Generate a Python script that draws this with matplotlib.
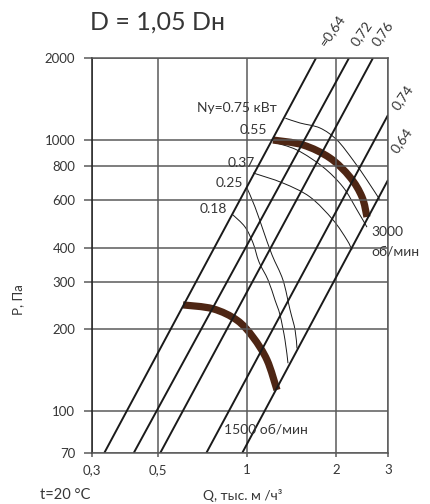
import matplotlib
matplotlib.use('Agg')
import numpy as np
import matplotlib.pyplot as plt
from matplotlib.path import Path
from matplotlib.patches import PathPatch

plt.rcParams['font.family'] = ['Lato', 'Open Sans', 'DejaVu Sans']

# axis ticks
x_ticks = [0.3, 0.5, 1, 2, 3]
x_labels = ['0,3', '0,5', '1', '2', '3']
y_ticks = [70, 100, 200, 300, 400, 600, 800, 1000, 2000]

# system lines (Q, P) at both ends
line_q1 = [0.33, 0.415, 0.51, 0.73, 0.965]
line_p1 = [70, 70, 70, 70, 70]
line_q2 = [1.714, 2.215, 2.669, 3.0, 3.0]
line_p2 = [2000, 2000, 2000, 1233, 710]
line_labels = ['=0,64', '0,72', '0,76', '0,74', '0,64']

# fan curves (thick brown)
q_3000 = [1.226, 1.549, 1.910, 2.232, 2.451, 2.547]
p_3000 = [997, 956, 856, 728, 615, 519]
q_1500 = [0.609, 0.769, 0.927, 1.050, 1.171, 1.265]
p_1500 = [246, 238, 216, 187, 154, 119.5]

# thin power curves
ny_labels = ['Ny=0.75 кВт', '0.55', '0.37', '0.25', '0.18']
ny_q = [
    [1.35, 1.513, 1.768, 2.017, 2.285, 2.547, 2.819],
    [1.226, 1.478, 1.809, 2.114, 2.357, 2.547],
    [1.050, 1.325, 1.635, 1.956, 2.180, 2.267],
    [1.002, 1.066, 1.135, 1.217, 1.325, 1.400, 1.456, 1.478],
    [0.898, 0.986, 1.050, 1.100, 1.180, 1.246, 1.295, 1.346, 1.378],
]
ny_p = [
    [1200, 1152, 1104, 997, 841, 710, 599],
    [980, 916, 793, 669, 551, 476],
    [754, 692, 615, 506, 427, 392],
    [663, 565, 465, 376, 304, 236, 199, 170],
    [528, 477, 416, 354, 304, 256, 226, 183, 150],
]

brown = '#4e2614'
txt = '#363636'
grid_c = '#5a5a5a'

# axes box in pixels (left, top, right, bottom)
L, T, R, B = 92, 58, 388, 453


def smooth_path(q, p):
    # Catmull-Rom through the read points, as cubic Bezier in log space
    pts = np.column_stack([np.log10(q), np.log10(p)])
    ext = np.vstack([pts[0], pts, pts[-1]])
    verts = [pts[0]]
    codes = [Path.MOVETO]
    for i in range(1, len(ext) - 2):
        p0, p1, p2, p3 = ext[i - 1], ext[i], ext[i + 1], ext[i + 2]
        verts += [p1 + (p2 - p0) / 6, p2 - (p3 - p1) / 6, p2]
        codes += [Path.CURVE4] * 3
    return Path(10 ** np.array(verts), codes)


def ptext(ax, px, py, s, **kw):
    ax.text((px - L) / (R - L), (B - py) / (B - T), s, transform=ax.transAxes,
            clip_on=False, **kw)


fig = plt.figure(figsize=(4.3, 5.04), dpi=100)
ax = fig.add_axes([L / 430, (504 - B) / 504, (R - L) / 430, (B - T) / 504])
ax.set_xscale('log')
ax.set_yscale('log')
ax.set_xlim(0.3, 3)
ax.set_ylim(70, 2000)

ax.set_xticks(x_ticks)
ax.set_xticklabels(x_labels)
ax.set_yticks(y_ticks)
ax.set_yticklabels([str(v) for v in y_ticks])
ax.minorticks_off()
ax.tick_params(axis='y', length=6, width=1.1, color=grid_c, pad=6,
               labelsize=9.5, labelcolor=txt)
ax.tick_params(axis='x', length=3, width=1.1, color=grid_c, pad=5,
               labelsize=9.5, labelcolor=txt)
ax.grid(True, color=grid_c, lw=1.1)
for s in ax.spines.values():
    s.set_color(grid_c)
    s.set_linewidth(1.1)
ax.spines['left'].set_color('#222222')

# system lines
for i in range(len(line_q1)):
    ax.plot([line_q1[i], line_q2[i]], [line_p1[i], line_p2[i]],
            color='#1a1a1a', lw=1.4, solid_capstyle='butt')

# thin curves
for q, p in zip(ny_q, ny_p):
    ax.add_patch(PathPatch(smooth_path(q, p), fill=False, ec='#1a1a1a', lw=0.7))

# fan curves
for q, p in [(q_3000, p_3000), (q_1500, p_1500)]:
    ax.add_patch(PathPatch(smooth_path(q, p), fill=False, ec=brown, lw=5.2,
                           capstyle='butt'))

# labels in the chart
fs = 10
ptext(ax, 237, 108, ny_labels[0], fontsize=fs, color=txt, ha='center', va='center')
ptext(ax, 253, 130, ny_labels[1], fontsize=fs, color=txt, ha='center', va='center')
ptext(ax, 241, 163, ny_labels[2], fontsize=fs, color=txt, ha='center', va='center')
ptext(ax, 229, 183, ny_labels[3], fontsize=fs, color=txt, ha='center', va='center')
ptext(ax, 213, 209, ny_labels[4], fontsize=fs, color=txt, ha='center', va='center')
ptext(ax, 387, 232, '3000', fontsize=fs, color=txt, ha='center', va='center')
ptext(ax, 395, 251, 'об/мин', fontsize=fs, color=txt, ha='center', va='center')
ptext(ax, 266, 430, '1500 об/мин', fontsize=fs, color=txt, ha='center', va='center')

# efficiency labels
eff_px = [332, 362, 383, 403, 402]
eff_py = [30, 33, 33, 97, 140]
for lab, ex, ey in zip(line_labels, eff_px, eff_py):
    ptext(ax, ex, ey, lab, fontsize=fs, color=txt, rotation=55,
          ha='center', va='center')

fig.text(157 / 430, 1 - 22 / 504, 'D = 1,05 Dн', fontsize=18, color=txt,
         ha='center', va='center')
fig.text(18 / 430, 1 - 300 / 504, 'P, Па', fontsize=9.5, color=txt,
         rotation=90, ha='center', va='center')
fig.text(243 / 430, 1 - 495 / 504, 'Q, тыс. м /ч³', fontsize=10, color=txt,
         ha='center', va='center')
fig.text(65 / 430, 1 - 495 / 504, 't=20 °C', fontsize=10.5, color=txt,
         ha='center', va='center')

fig.savefig('out.png', dpi=100)
